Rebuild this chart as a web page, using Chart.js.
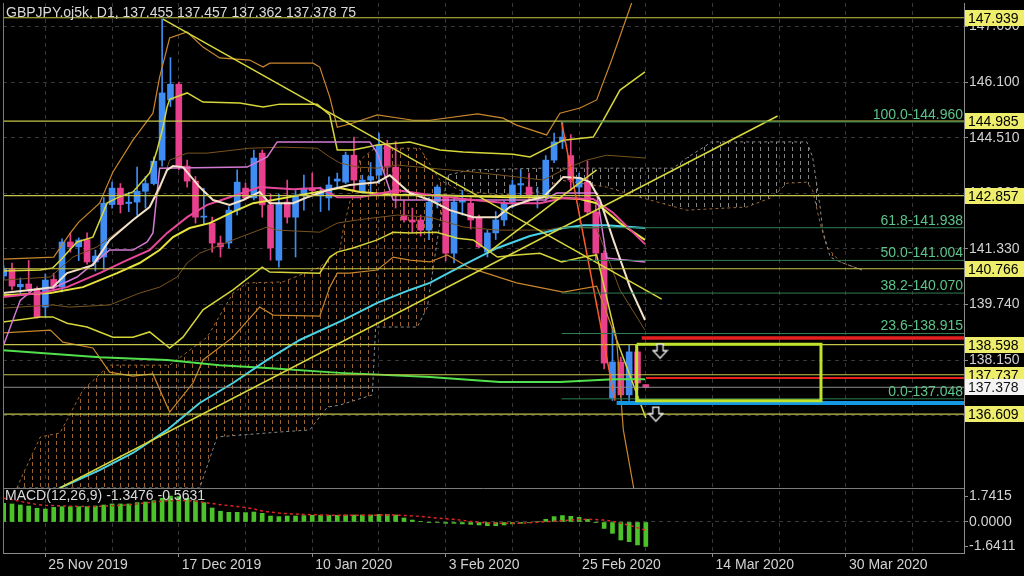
<!DOCTYPE html>
<html>
<head>
<meta charset="utf-8">
<script src="https://cdn.jsdelivr.net/npm/chart.js@4"></script>
<style>
  html, body { margin: 0; padding: 0; background: #000; }
  #chart { display: block; }
</style>
</head>
<body>
<canvas id="chart" width="1024" height="576"></canvas>
<script>
// ---- daily candles (bar index 0..77, last one is the live bar)
const opens = [140.56,140.76,140.25,140.33,140.19,139.67,140.46,140.24,141.53,141.39,
  141.60,140.96,141.10,142.60,143.07,142.63,142.67,142.98,143.20,143.87,
  145.59,146.04,143.70,143.27,142.24,142.07,141.50,141.50,142.44,143.07,
  142.79,144.07,142.59,141.01,142.67,142.24,142.87,143.07,142.85,142.79,
  143.27,143.24,144.01,142.96,143.30,143.44,144.30,143.67,142.30,142.16,
  142.16,141.87,142.67,142.81,141.21,142.67,142.64,142.21,141.24,141.79,
  142.16,142.67,143.16,143.10,142.80,142.81,143.87,144.39,144.00,143.10,
  143.24,142.39,141.21,137.07,138.10,137.16,138.39,137.455];
const highs = [140.85,140.93,140.50,141.00,140.25,140.62,140.64,141.62,141.79,141.65,
  141.79,141.30,142.80,143.24,143.20,142.95,143.67,143.40,143.96,147.90,
  146.80,146.10,143.87,143.40,143.07,142.24,141.70,142.54,143.59,143.21,
  144.16,144.16,142.90,142.90,143.30,143.00,143.44,143.50,143.10,143.39,
  143.50,144.10,144.53,143.44,143.80,144.64,144.44,144.40,142.73,142.50,
  142.30,142.80,143.16,142.90,142.80,143.00,142.80,142.30,141.87,142.40,
  142.70,143.30,143.59,143.50,143.10,144.00,144.64,144.96,144.60,143.50,
  143.85,142.60,141.30,139.10,138.24,138.60,138.50,137.457];
const lows = [140.45,140.16,140.07,140.10,139.35,139.40,140.16,140.10,141.24,141.00,
  140.90,140.70,140.75,142.50,142.36,142.40,142.30,142.50,143.16,143.70,
  145.40,143.59,143.10,142.07,142.05,141.24,141.10,141.36,142.30,142.73,
  142.73,142.24,141.01,140.81,142.07,141.10,142.44,142.87,142.40,142.44,
  143.10,143.20,143.00,142.93,142.90,143.20,143.39,142.50,142.10,141.80,
  141.70,141.60,142.50,140.99,140.93,142.30,141.90,141.36,141.10,141.60,
  142.00,142.50,142.81,142.70,142.50,142.70,143.80,144.20,143.00,142.90,
  142.30,141.00,137.90,137.00,137.10,137.00,137.30,137.362];
const closes = [140.76,140.27,140.32,140.19,139.39,140.44,140.27,141.53,141.39,141.59,
  140.96,141.13,142.64,143.07,142.60,142.67,142.98,143.20,143.84,145.79,
  146.04,143.70,143.27,142.24,142.27,141.50,141.39,142.44,143.24,142.79,
  143.93,142.59,141.36,142.64,142.24,142.87,143.07,143.00,142.95,143.16,
  143.33,144.01,143.30,143.30,143.40,144.30,143.67,142.87,142.16,142.10,
  141.87,142.67,143.10,141.21,142.67,142.72,142.16,141.39,141.79,142.16,
  142.64,143.16,143.20,142.87,142.85,143.87,144.39,144.53,143.30,143.36,
  142.39,141.21,138.07,138.10,137.16,138.39,137.50,137.378];

// ---- MACD(12,26,9): main as histogram, signal as dotted line
const macdMain = [1.25,1.21,1.14,1.07,0.92,0.87,0.98,1.03,1.03,1.03,
  1.03,1.07,1.14,1.21,1.21,1.21,1.30,1.34,1.43,1.59,
  1.74,1.70,1.59,1.43,1.30,0.94,0.72,0.65,0.65,0.63,
  0.67,0.58,0.40,0.36,0.40,0.40,0.43,0.45,0.45,0.45,
  0.45,0.47,0.47,0.47,0.47,0.51,0.51,0.47,0.27,0.13,
  0.04,-0.02,-0.04,-0.09,-0.09,-0.13,-0.16,-0.20,-0.25,-0.25,
  -0.20,-0.13,-0.09,-0.04,0.04,0.18,0.36,0.43,0.38,0.31,
  0.18,-0.02,-0.43,-0.76,-1.21,-1.32,-1.54,-1.64];
const macdSignal = [1.59,1.50,1.38,1.27,1.17,1.12,1.10,1.08,1.06,1.04,
  1.03,1.04,1.06,1.09,1.12,1.15,1.21,1.28,1.34,1.39,
  1.43,1.44,1.43,1.39,1.32,1.24,1.16,1.10,1.04,0.97,
  0.87,0.74,0.66,0.60,0.56,0.53,0.51,0.49,0.47,0.46,
  0.45,0.45,0.45,0.45,0.46,0.46,0.47,0.46,0.44,0.41,
  0.37,0.32,0.27,0.22,0.18,0.11,0.04,-0.02,-0.06,-0.09,
  -0.09,-0.09,-0.08,-0.05,-0.02,0.02,0.05,0.09,0.13,0.17,
  0.18,0.16,0.13,0.05,-0.08,-0.22,-0.38,-0.56];

// ---- indicator lines as [bar index, price]
const bb3Upper = [[-0.1,141.04],[6,141.10],[8,141.79],[9,142.10],[11.5,142.64],[13.1,143.53],[15.5,144.44],[17.9,145.21],[18.7,146.24],[19.9,147.36],[22,147.53],[23.9,147.10],[25.9,146.79],[29.5,146.73],[31.1,146.53],[31.9,146.64],[37.1,146.64],[37.9,146.53],[39.1,145.67],[40,144.81],[41.9,144.93],[44.8,145.16],[49.1,145.01],[51.1,145.01],[56.8,145.19],[59.9,145.07],[61.5,144.87],[65.1,144.59],[66.7,145.21],[69.1,145.36],[71.1,145.59],[72.9,146.73],[75.3,148.36],[76.5,149.5]];
const bb3Lower = [[-0.1,138.93],[5.6,139.01],[7.1,138.67],[10.7,138.50],[12.7,137.81],[15.5,137.70],[17.9,137.76],[19.9,136.67],[22.7,137.50],[23.9,138.16],[27.5,138.81],[30.7,139.67],[32.3,139.44],[37.9,139.41],[39.1,140.24],[40,140.64],[41.5,140.64],[44.8,140.73],[46.7,141.10],[48.7,141.01],[51.1,140.96],[53.2,141.16],[55.9,140.79],[61.5,140.36],[67.1,140.10],[71.1,140.27],[73.5,138.73],[74.3,136.16],[75.8,134.16]];
const bb2Upper = [[-0.1,140.70],[4.4,140.73],[5.9,140.79],[6.8,141.01],[8.8,141.53],[10.7,141.67],[12.4,142.64],[13.6,142.79],[15.5,142.96],[17.5,143.50],[18.4,144.16],[19.1,144.81],[19.6,145.39],[19.9,145.61],[22,145.79],[23.9,145.53],[28.3,145.50],[31.1,145.39],[33.1,145.47],[37.6,145.47],[39.1,145.16],[40,144.16],[41.9,144.16],[44.8,144.30],[48.7,144.39],[52.3,144.16],[55.1,144.10],[61.1,144.04],[63.1,143.96],[67.1,144.44],[70.7,144.53],[71.9,145.01],[73.9,145.87],[76.9,146.39]];
const bb2Lower = [[-0.1,139.24],[4.4,139.39],[5.9,139.39],[7.6,139.21],[10,139.10],[11.5,138.96],[13.1,138.81],[15.5,138.81],[17.5,138.96],[19.9,138.50],[21.5,138.81],[23.9,139.59],[27.5,140.16],[31,140.81],[31.9,140.67],[37.9,140.64],[39.1,141.10],[40,141.24],[41.9,141.36],[44.8,141.59],[46.7,141.81],[48.7,141.79],[51.9,141.81],[54.4,141.64],[56.3,141.59],[59.2,141.10],[61.5,141.16],[64.3,141.21],[66.9,140.96],[69.5,141.10],[71.1,141.16],[73.5,138.73],[77,136.50]];
const bb1Upper = [[-0.1,140.44],[5.6,140.53],[8.3,141.10],[11.2,141.39],[13.9,141.87],[17.5,142.53],[18.7,143.01],[19.9,143.87],[22,144.07],[24.4,144.07],[29.5,144.21],[33.5,144.24],[37.6,144.21],[39.1,143.96],[40.3,143.79],[42.4,143.67],[44.8,143.64],[47.2,143.73],[51.1,143.64],[56.3,143.53],[61.5,143.39],[64.7,143.30],[67.1,143.59],[69.9,143.87],[72.3,144.01],[76.9,143.93]];
const bb1Lower = [[-0.1,139.64],[5.9,139.73],[7.9,139.67],[12.7,139.73],[16.3,140.07],[18.7,140.24],[20.8,140.53],[22,140.93],[23.5,141.21],[27.5,141.59],[31.6,141.96],[32.8,141.87],[37.9,141.81],[40,142.07],[42.4,142.16],[47.2,142.30],[51.1,142.24],[55.1,141.96],[59.2,141.87],[65.1,141.87],[67.1,141.96],[71.1,141.93],[73.9,140.16],[76.9,139.01]];
const maFast = [[-0.1,140.07],[3.2,140.16],[5.9,140.24],[7.6,140.64],[10.7,140.87],[12.7,141.59],[15.5,142.16],[17.5,142.53],[18.7,143.10],[19.6,143.59],[20.3,143.70],[21.5,143.67],[23.5,143.10],[25.1,142.73],[27.1,142.59],[28.7,142.73],[30.7,142.96],[31.9,142.64],[34.7,142.64],[36.4,142.81],[38.8,143.01],[41.5,143.16],[44.8,143.24],[46.3,143.44],[48.7,142.93],[51.1,142.73],[53.5,142.44],[56.3,142.24],[59.2,142.24],[60.7,142.53],[63.1,142.73],[64.7,142.81],[67.1,143.39],[69.1,143.36],[70.3,143.24],[71.5,142.73],[73.1,141.59],[75.1,140.24],[76.9,139.30]];
const maPink = [[-0.1,139.96],[4.4,140.07],[7.6,140.24],[11.5,140.64],[14.8,141.01],[17.5,141.30],[19.6,141.79],[22,142.24],[24.4,142.59],[27.1,142.81],[30.7,143.10],[34.7,143.04],[37.9,143.07],[40,142.81],[42.7,142.81],[47.2,143.01],[51.1,142.87],[56.3,142.73],[60.4,142.64],[64.3,142.64],[67.1,142.79],[70.7,142.76],[73.1,142.36],[76.9,141.47]];
const kijun = [[-0.1,138.53],[2,139.87],[3.5,140.16],[5.9,140.21],[8.8,140.53],[12.7,141.30],[15.5,141.30],[17.2,141.53],[17.9,141.79],[18.7,143.64],[29.2,143.67],[31.6,143.96],[32.8,144.39],[43.9,144.39],[44.8,144.07],[46.7,142.73],[64.9,142.73],[66.3,142.93],[71.1,142.93],[72.3,141.07],[76.9,140.96]];
const maYellow = [[-0.1,140.01],[5.6,140.07],[9.5,140.24],[13.6,140.64],[16.3,140.93],[18.7,141.30],[20.3,141.67],[22.3,141.93],[24.7,142.07],[27.5,142.39],[29.9,142.64],[32.3,142.73],[35.5,142.87],[40.3,143.07],[42.7,142.96],[47.2,142.87],[51.1,142.87],[55.9,142.84],[60.7,142.81],[65.1,142.81],[69.1,142.76],[71.1,142.64],[73.9,142.07],[76.9,141.59]];
const maCyan = [[4.4,134.16],[6.75,134.50],[11.5,135.01],[15.5,135.50],[19.6,136.16],[23.5,136.93],[27.5,137.50],[31.6,138.16],[35.5,138.73],[40.7,139.30],[44.8,139.79],[48.7,140.16],[51.1,140.36],[55.1,140.87],[59.2,141.36],[63.1,141.70],[67.1,141.93],[69.5,142.01],[72.3,142.01],[76.9,141.93]];
const maGreen = [[-0.1,138.44],[11.5,138.24],[19.6,138.16],[25.9,138.01],[31.6,137.93],[40.3,137.79],[51.1,137.67],[59.5,137.53],[66.7,137.53],[73.1,137.61],[76.9,137.61]];
const spanA = [[1.6,134.50],[2,134.73],[4.4,135.96],[6.75,136.07],[9.5,137.30],[12.7,138.01],[19.9,138.01],[24.4,138.81],[27.5,140.07],[29.2,140.36],[33.5,140.39],[37.9,140.81],[40.3,141.30],[40.7,141.87],[42.7,143.87],[44.5,144.21],[49.9,144.21],[52.3,143.30],[54.7,143.01],[59.5,142.87],[64.3,142.96],[66.7,143.30],[72.3,143.10],[76.3,142.81],[81.9,142.44],[89.1,142.53],[92.2,142.81],[93.9,143.21],[96.3,143.24],[97,143.01],[97.9,142.07],[98.7,141.39],[100.3,140.96],[102.9,140.73]];
const spanB = [[1.6,134.50],[23.5,134.50],[25.6,135.96],[33.1,136.10],[36.7,136.16],[38.8,136.81],[40.3,136.87],[44.2,137.16],[44.6,139.10],[49.6,139.10],[50.8,139.67],[52,141.59],[53.2,143.44],[55.9,143.59],[64.7,143.64],[72.3,143.64],[80.3,143.64],[81.9,143.93],[84.9,144.39],[96.3,144.39],[97,143.96],[97.9,142.53],[98.2,141.87],[99.1,141.10],[100.3,140.96],[102.9,140.73]];

// ---- drawn objects
const trendDown = [[19.1,147.90],[78.9,139.90]];
const trendUp = [[6.75,134.50],[92.8,145.13]];
const trendShort = [[58,141.21],[71.1,143.59]];
const trendSteep = [[66.9,144.96],[73.3,137.00]];
const levelVals = [147.939, 144.985, 142.857, 140.766, 138.598, 137.737, 136.609];
const lastPrice = 137.378;
const fibVals = [144.960, 141.938, 141.004, 140.070, 138.915, 137.048];
const fibLabels = ['100.0-144.960', '61.8-141.938', '50.0-141.004', '38.2-140.070', '23.6-138.915', '0.0-137.048'];
const fibStart = 66.9;
const redZone = [[76.5, 138.79], [77, 137.64]];
const blueZone = [73.5, 136.93];
const zoneBox = [[75.9,138.61],[98,138.61],[98,136.99],[75.9,136.99],[75.9,138.61]];
const arrowPts = [[78.7,138.41],[78.2,136.61]];

// ---- axes
const gridIdx = [5,13,21,29,37,45,53,61,69,77,85,93,101,109];
const dateIdx = [5,21,37,53,69,85,101];
const dateLabels = ['25 Nov 2019','17 Dec 2019','10 Jan 2020','3 Feb 2020','25 Feb 2020','14 Mar 2020','30 Mar 2020'];
const priceTicks = [136.560, 138.150, 139.740, 141.330, 142.920, 144.510, 146.100, 147.690];
const macdTicks = [-1.6411, 0, 1.7415];

const FONT = "14px 'Liberation Sans', Arial, sans-serif";
const BULL = '#3f8df2', BEAR = '#e8408c';
Chart.defaults.font.family = "'Liberation Sans', Arial, sans-serif";
Chart.defaults.font.size = 14;

const canvas = document.getElementById('chart');
const ctx = canvas.getContext('2d');

function pts(arr) { return arr.map(p => ({x: p[0], y: p[1]})); }
function flat(v, x0) { return [{x: x0, y: v}, {x: 116, y: v}]; }
function lineDs(data, color, width, order, extra) {
  return Object.assign({
    type: 'line', data: data, borderColor: color, borderWidth: width,
    pointRadius: 0, tension: 0, fill: false, order: order, yAxisID: 'y'
  }, extra || {});
}
// dashed vertical hatch, like the MT4 kumo
function hatch(color) {
  const c = document.createElement('canvas');
  c.width = 8; c.height = 7;
  const g = c.getContext('2d');
  g.fillStyle = color;
  g.fillRect(0, 0, 1, 4);
  return ctx.createPattern(c, 'repeat');
}
function arrowImg() {
  const c = document.createElement('canvas');
  c.width = 17; c.height = 17;
  const g = c.getContext('2d');
  g.beginPath();
  g.moveTo(5.5, 1.5); g.lineTo(11.5, 1.5); g.lineTo(11.5, 8); g.lineTo(15.5, 8);
  g.lineTo(8.5, 15.5); g.lineTo(1.5, 8); g.lineTo(5.5, 8); g.closePath();
  g.fillStyle = '#000'; g.fill();
  g.strokeStyle = '#f2f2f2'; g.lineWidth = 1.3; g.stroke();
  return c;
}
// scale boxes exactly where the panes are, no label overhang
function noPad(s) { s.paddingTop = 0; s.paddingBottom = 0; s.paddingLeft = 0; s.paddingRight = 0; }

const bodyColors = opens.map((o, i) => closes[i] >= o ? BULL : BEAR);

const datasets = [
  // ichimoku cloud
  lineDs(pts(spanA), '#9a6632', 1, 100, {borderDash: [3, 3],
    fill: {target: '+1', above: hatch('#9a6430'), below: hatch('#868686')}}),
  lineDs(pts(spanB), '#8a8a8a', 1, 99, {borderDash: [3, 3]}),
  // candles
  {type: 'bar', data: opens.map((o, i) => ({x: i, y: [lows[i], highs[i]]})), backgroundColor: bodyColors,
    barThickness: 1, grouped: false, order: 81, yAxisID: 'y'},
  {type: 'bar', data: opens.map((o, i) => ({x: i, y: [o, closes[i]]})), backgroundColor: bodyColors,
    barThickness: 6, minBarLength: 1, grouped: false, order: 80, yAxisID: 'y'},
  // bollinger style bands
  lineDs(pts(bb3Upper), '#c9862c', 1.2, 70),
  lineDs(pts(bb3Lower), '#c9862c', 1.2, 70),
  lineDs(pts(bb2Upper), '#d6d63a', 1.5, 70),
  lineDs(pts(bb2Lower), '#d6d63a', 1.5, 70),
  lineDs(pts(bb1Upper), '#7a5420', 1, 71),
  lineDs(pts(bb1Lower), '#7a5420', 1, 71),
  // moving averages
  lineDs(pts(maGreen), '#52e04c', 2, 62),
  lineDs(pts(maCyan), '#4ad2e6', 2, 61),
  lineDs(pts(maYellow), '#e6e23e', 2, 60),
  lineDs(pts(kijun), '#d47ad4', 1.5, 59),
  lineDs(pts(maPink), '#e8479a', 2, 58),
  lineDs(pts(maFast), '#f2e2c8', 2, 57),
  // horizontal levels
  ...levelVals.map(v => lineDs(flat(v, -1), '#c6c64a', 1.2, 55)),
  lineDs(flat(lastPrice, -1), '#8c8c8c', 1, 55),
  // trend lines
  lineDs(pts(trendDown), '#d8d83c', 1.5, 50),
  lineDs(pts(trendUp), '#d8d83c', 1.5, 50),
  lineDs(pts(trendShort), '#d8d83c', 1.5, 50),
  lineDs(pts(trendSteep), '#ff5a2c', 1.5, 50),
  // fibonacci retracement
  ...fibVals.map(v => lineDs(flat(v, fibStart), '#2f7f52', 1, 45)),
  // zone marks
  lineDs(flat(redZone[0][1], redZone[0][0]), '#e61f1f', 3.5, 40),
  lineDs(flat(redZone[1][1], redZone[1][0]), '#e61f1f', 2, 40),
  lineDs(flat(blueZone[1], blueZone[0]), '#1498e2', 4, 40),
  lineDs(pts(zoneBox), '#bfe22a', 3, 39),
  {type: 'scatter', data: pts(arrowPts), pointStyle: arrowImg(), pointRadius: 3, order: 30, yAxisID: 'y'},
  // MACD panel
  {type: 'bar', data: macdMain.map((v, i) => ({x: i, y: v})), backgroundColor: '#4cc22a',
    barThickness: 4, grouped: false, order: 20, yAxisID: 'ym'},
  lineDs(macdSignal.map((v, i) => ({x: i, y: v})), '#e02424', 1.5, 19, {borderDash: [3, 3], yAxisID: 'ym'})
];

// keep each dataset inside its own panel
const panelClip = {
  id: 'panelClip',
  beforeDatasetDraw(chart, args) {
    const s = chart.scales[args.meta.yAxisID];
    const a = chart.chartArea;
    chart.ctx.save();
    chart.ctx.beginPath();
    chart.ctx.rect(a.left, s.top, a.right - a.left, s.bottom - s.top);
    chart.ctx.clip();
  },
  afterDatasetDraw(chart) { chart.ctx.restore(); }
};

// texts, frame and price boxes
const decor = {
  id: 'decor',
  afterDraw(chart) {
    const c = chart.ctx, a = chart.chartArea, ys = chart.scales.y, ym = chart.scales.ym;
    c.save();
    c.strokeStyle = '#7c7c7c';
    c.lineWidth = 1;
    c.beginPath();
    c.moveTo(a.left + 0.5, a.top); c.lineTo(a.left + 0.5, a.bottom);
    c.moveTo(a.left, Math.round(ys.bottom) + 0.5); c.lineTo(a.right, Math.round(ys.bottom) + 0.5);
    c.stroke();

    c.font = FONT;
    c.textBaseline = 'middle';
    c.textAlign = 'left';
    c.fillStyle = '#dadada';
    c.fillText('GBPJPY.oj5k, D1, 137.455 137.457 137.362 137.378 75', a.left + 3, 13);
    c.fillText('MACD(12,26,9) -1.3476 -0.5631', a.left + 2, ym.top + 8);

    c.fillStyle = '#5cc48a';
    c.textAlign = 'right';
    fibVals.forEach((v, k) => c.fillText(fibLabels[k], a.right - 1, ys.getPixelForValue(v) - 7));

    c.textAlign = 'left';
    function box(v, bg, fg) {
      const y = Math.round(ys.getPixelForValue(v));
      c.fillStyle = bg;
      c.fillRect(a.right + 1, y - 8, chart.width - a.right - 1, 16);
      c.fillStyle = fg;
      c.fillText(v.toFixed(3), a.right + 4, y + 1);
    }
    levelVals.forEach(v => box(v, '#eeee6c', '#000'));
    box(lastPrice, '#f4f4f4', '#111');
    c.restore();
  }
};

new Chart(ctx, {
  type: 'bar',
  data: { datasets: datasets },
  options: {
    responsive: false,
    animation: false,
    events: [],
    layout: { autoPadding: false, padding: { left: 3, top: 3, right: 0, bottom: 0 } },
    plugins: { legend: { display: false }, tooltip: { enabled: false } },
    scales: {
      x: {
        type: 'linear', min: -0.08, max: 115.15, offset: false,
        afterBuildTicks: s => { s.ticks = gridIdx.map(v => ({value: v})); },
        afterFit: s => { s.height = 23; noPad(s); },
        ticks: {
          autoSkip: false, maxRotation: 0, align: 'start', labelOffset: 3, padding: 0,
          color: '#d2d2d2',
          callback: v => { const k = dateIdx.indexOf(v); return k < 0 ? '' : dateLabels[k]; }
        },
        grid: {
          offset: false, color: '#383838', tickLength: 4,
          tickColor: c => dateIdx.includes(c.tick && c.tick.value) ? '#8c8c8c' : 'rgba(0,0,0,0)'
        },
        border: { dash: [4, 4], color: '#8c8c8c' }
      },
      y: {
        type: 'linear', position: 'right', stack: 'panes', stackWeight: 485,
        min: 134.5, max: 148.36, beginAtZero: false,
        afterBuildTicks: s => { s.ticks = priceTicks.map(v => ({value: v})); },
        afterFit: s => { s.width = 60; noPad(s); },
        ticks: { autoSkip: false, color: '#d2d2d2', padding: 1, callback: v => v.toFixed(3) },
        grid: { color: '#383838', tickLength: 4, tickColor: '#8c8c8c' },
        border: { dash: [4, 4], color: '#8c8c8c' }
      },
      ym: {
        type: 'linear', position: 'right', stack: 'panes', stackWeight: 65,
        min: -2.08, max: 2.28, beginAtZero: false,
        afterBuildTicks: s => { s.ticks = macdTicks.map(v => ({value: v})); },
        afterFit: s => { s.width = 60; noPad(s); },
        ticks: { autoSkip: false, color: '#d2d2d2', padding: 1, callback: v => v.toFixed(4) },
        grid: {
          color: c => (c.tick && c.tick.value === 0) ? '#383838' : 'rgba(0,0,0,0)',
          tickLength: 4, tickColor: '#8c8c8c'
        },
        border: { dash: [4, 4], color: '#8c8c8c' }
      }
    }
  },
  plugins: [panelClip, decor]
});
</script>
</body>
</html>
